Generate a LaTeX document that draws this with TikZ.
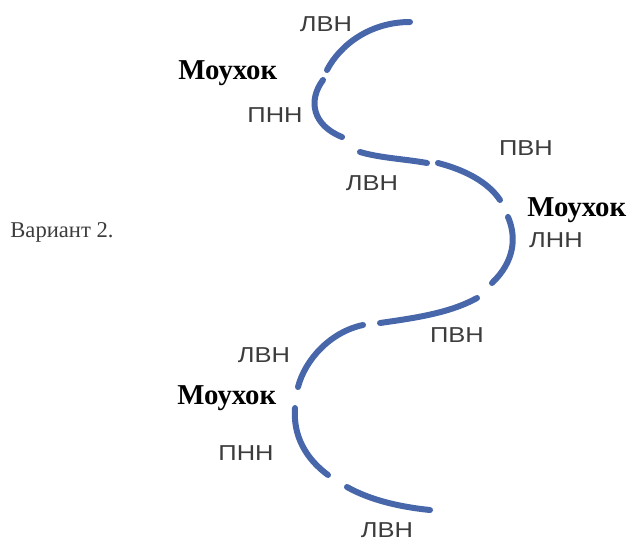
\documentclass[tikz,border=0pt]{standalone}
\usepackage{fontspec}
\setmainfont{Liberation Serif}
\newfontfamily\lblfont[FakeStretch=1.18]{Liberation Sans}
\definecolor{curveblue}{HTML}{4767AA}
\definecolor{lblgray}{HTML}{3C3C3C}

\begin{document}
\begin{tikzpicture}[x=0.5pt,y=-0.5pt,
  seg/.style={curveblue,line width=3pt,line cap=round},
  lbl/.style={text=lblgray,font=\lblfont\fontsize{10.8}{12}\selectfont,inner sep=0pt,anchor=base},
  mx/.style={font=\bfseries\fontsize{14.4}{16}\selectfont,inner sep=0pt,anchor=base west}]
\useasboundingbox (0,0) rectangle (630,540);
% curve pieces
\foreach \ax/\ay/\bx/\by/\cx/\cy/\dx/\dy in %
{410/22/370/22/340/45/327/70, 323/80/308/100/312/125/342/137,
 360/152/380/158/405/159/427/163, 438/163/465/170/488/182/500/200,
 508/217/517/238/514/262/492/283, 477/298/450/313/415/318/380/323,
 363/325/330/332/305/360/298/387, 295/408/293/435/305/458/328/475,
 347/487/370/500/400/507/430/510} {
   \draw[seg] (\ax,\ay) .. controls (\bx,\by) and (\cx,\cy) .. (\dx,\dy);
}
% labels
\foreach \x/\y/\t [count=\i] in %
{326/32/ЛВН, 275/122/ПНН, 372/190/ЛВН, 526/155/ПВН, 556/247/ЛНН,
 457/342/ПВН, 264/362/ЛВН, 246/460/ПНН, 387/537/ЛВН} {
   \node[lbl] (lab\i) at (\x,\y) {\t};
}
\node[mx] (mtop) at (178,80) {Моухок};
\node[mx] (mright) at (527,216) {Моухок};
\node[mx] (mlow) at (177,404) {Моухок};
\node[anchor=base west,inner sep=0pt,text=lblgray,font=\fontsize{11.3}{13}\selectfont] (var) at (10,237) {Вариант 2.};
\end{tikzpicture}
\end{document}
